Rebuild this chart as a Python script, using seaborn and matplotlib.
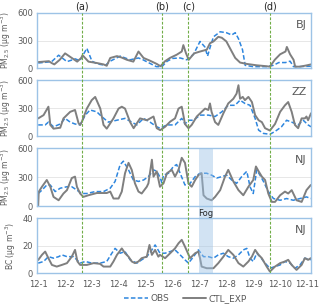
import matplotlib
matplotlib.use("Agg")
import matplotlib.pyplot as plt
import seaborn as sns
import pandas as pd

# days since 12-1 00:00
bj_ctl_t = [0, 0.4, 0.5, 0.6, 0.8, 1.0, 1.2, 1.45, 1.6, 1.65, 1.87, 2.18, 2.43, 2.55, 2.68, 2.93, 3.1, 3.3,
            3.54, 3.73, 3.92, 4.16, 4.41, 4.55, 4.72, 4.9, 5.15, 5.34, 5.4, 5.5, 5.6, 5.8, 6.02, 6.27, 6.39,
            6.52, 6.7, 6.83, 7.0, 7.2, 7.33, 7.51, 7.76, 8.13, 8.5, 8.62, 8.8, 9.0, 9.2, 9.25, 9.37, 9.5,
            9.56, 9.74, 10.0, 10.15]
bj_ctl = [65, 75, 55, 40, 90, 160, 120, 70, 110, 140, 70, 55, 40, 25, 110, 130, 115, 90, 70, 180, 110, 80,
          45, 20, 75, 110, 145, 180, 250, 160, 90, 160, 180, 200, 270, 290, 340, 330, 290, 180, 110, 60, 45,
          30, 20, 15, 90, 150, 180, 230, 150, 90, 15, 15, 30, 40]
bj_obs_t = [0, 0.5, 0.76, 1.07, 1.38, 1.55, 1.81, 2.0, 2.2, 2.5, 2.68, 3.05, 3.42, 3.73, 3.9, 4.23, 4.4, 4.6,
            4.8, 5.0, 5.28, 5.53, 5.78, 6.02, 6.2, 6.3, 6.4, 6.52, 6.77, 7.0, 7.2, 7.33, 7.45, 7.6, 7.7, 8.0,
            8.5, 8.75, 8.95, 9.2, 9.37, 9.5, 10.15]
bj_obs = [55, 70, 140, 70, 100, 80, 215, 75, 45, 30, 75, 130, 90, 110, 90, 40, 15, 15, 75, 105, 110, 90, 150,
          290, 230, 130, 230, 340, 395, 385, 360, 385, 320, 200, 30, 15, 15, 30, 60, 60, 75, 15, 20]

zz_ctl_t = [0, 0.2, 0.38, 0.45, 0.57, 0.82, 0.94, 1.19, 1.37, 1.5, 1.56, 1.62, 1.81, 1.99, 2.12, 2.31, 2.43,
            2.55, 2.8, 2.99, 3.11, 3.23, 3.42, 3.55, 3.79, 4.04, 4.29, 4.41, 4.54, 4.72, 4.91, 5.09, 5.22,
            5.34, 5.4, 5.46, 5.59, 5.71, 5.9, 6.08, 6.21, 6.33, 6.39, 6.45, 6.58, 6.7, 6.89, 7.07, 7.26, 7.38,
            7.45, 7.51, 7.61, 7.69, 7.82, 7.95, 8.07, 8.2, 8.32, 8.44, 8.62, 8.81, 9.0, 9.18, 9.3, 9.43, 9.55,
            9.67, 9.8, 9.92, 9.98, 10.04, 10.15]
zz_ctl = [190, 225, 315, 120, 80, 90, 190, 260, 280, 140, 120, 150, 295, 385, 420, 295, 120, 80, 190, 295,
          315, 295, 150, 85, 190, 170, 210, 85, 64, 100, 155, 190, 295, 315, 225, 130, 85, 120, 210, 260, 295,
          280, 350, 260, 150, 120, 245, 350, 400, 455, 545, 400, 420, 385, 420, 365, 225, 170, 150, 85, 60,
          130, 260, 330, 365, 260, 120, 85, 190, 190, 210, 170, 245]
zz_obs_t = [0, 0.26, 0.38, 0.57, 0.82, 1.0, 1.19, 1.37, 1.56, 1.75, 1.93, 2.18, 2.36, 2.61, 2.92, 3.23, 3.48,
            3.67, 3.92, 4.16, 4.41, 4.53, 4.79, 5.09, 5.34, 5.46, 5.59, 5.78, 6.02, 6.33, 6.58, 6.83, 7.07,
            7.32, 7.51, 7.69, 7.88, 8.07, 8.2, 8.38, 8.62, 8.81, 9.05, 9.24, 9.43, 9.67, 9.86, 10.04, 10.15]
zz_obs = [120, 120, 150, 100, 130, 190, 150, 130, 120, 225, 280, 260, 210, 150, 170, 190, 150, 120, 190, 150,
          100, 85, 120, 120, 190, 130, 170, 170, 225, 225, 210, 260, 330, 330, 385, 350, 330, 190, 64, 29, 20,
          50, 100, 170, 150, 120, 170, 120, 100]

nj_ctl_t = [0, 0.02, 0.14, 0.32, 0.45, 0.57, 0.76, 0.94, 1.07, 1.25, 1.37, 1.44, 1.56, 1.68, 1.87, 2.18, 2.55,
            2.68, 2.8, 2.99, 3.11, 3.23, 3.36, 3.48, 3.6, 3.73, 3.85, 4.04, 4.1, 4.23, 4.29, 4.41, 4.53, 4.66,
            4.79, 4.97, 5.09, 5.22, 5.34, 5.46, 5.59, 5.71, 5.84, 5.96, 6.08, 6.15, 6.27, 6.45, 6.58, 6.77,
            6.95, 7.07, 7.26, 7.45, 7.63, 7.82, 8.0, 8.1, 8.2, 8.32, 8.44, 8.56, 8.69, 8.81, 9.0, 9.18, 9.3,
            9.43, 9.61, 9.8, 9.98, 10.14]
nj_ctl = [0, 148, 200, 270, 200, 95, 60, 130, 165, 290, 305, 200, 130, 95, 112, 135, 135, 150, 78, 78, 150,
          340, 448, 375, 235, 150, 130, 200, 235, 480, 305, 360, 200, 235, 340, 375, 305, 375, 500, 448, 235,
          200, 270, 320, 340, 112, 78, 60, 95, 165, 305, 375, 255, 165, 112, 200, 270, 410, 360, 305, 270,
          130, 43, 43, 112, 150, 130, 165, 60, 43, 165, 218]
nj_obs_t = [0, 0.14, 0.32, 0.45, 0.63, 0.82, 1.07, 1.25, 1.44, 1.62, 1.81, 2.12, 2.43, 2.68, 2.86, 3.05, 3.17,
            3.36, 3.54, 3.73, 3.92, 4.1, 4.29, 4.41, 4.53, 4.6, 4.66, 4.85, 5.03, 5.15, 5.28, 5.46, 5.65, 5.84,
            6.02, 6.27, 6.45, 6.64, 6.83, 7.01, 7.2, 7.38, 7.57, 7.76, 7.88, 8.0, 8.13, 8.25, 8.38, 8.56, 8.75,
            9.0, 9.24, 9.49, 9.74, 9.98, 10.14]
nj_obs = [130, 165, 218, 218, 150, 185, 200, 200, 165, 130, 130, 150, 150, 185, 255, 430, 465, 375, 270, 255,
          270, 305, 375, 360, 300, 240, 320, 340, 410, 430, 340, 218, 235, 305, 340, 340, 320, 290, 305, 320,
          270, 235, 305, 360, 200, 130, 375, 320, 255, 150, 78, 60, 78, 60, 78, 95, 78]

bc_ctl_t = [0, 0.14, 0.26, 0.38, 0.51, 0.69, 0.88, 1.07, 1.25, 1.37, 1.46, 1.56, 1.81, 2.06, 2.3, 2.43, 2.68,
            2.8, 2.93, 3.11, 3.23, 3.36, 3.48, 3.6, 3.73, 3.85, 4.04, 4.14, 4.23, 4.35, 4.47, 4.53, 4.72, 4.91,
            5.09, 5.22, 5.34, 5.46, 5.65, 5.84, 5.96, 6.02, 6.08, 6.27, 6.52, 6.7, 6.89, 7.07, 7.26, 7.45,
            7.63, 7.82, 7.95, 8.07, 8.2, 8.32, 8.5, 8.62, 8.81, 9.0, 9.18, 9.3, 9.43, 9.61, 9.8, 9.92, 10.04,
            10.14]
bc_ctl = [9.6, 13.3, 15.7, 10.9, 6, 4.8, 6, 7.3, 12, 16.9, 8.5, 6, 6, 7.3, 6.8, 4.8, 4.8, 8.5, 13.3, 18, 14.5,
          12, 8.5, 7.3, 8.5, 10.9, 12, 20.5, 13.3, 16.9, 12, 13.3, 10.9, 14.5, 18, 21.7, 24.2, 19.3, 10.9, 14.5,
          15.7, 10.9, 4.8, 3.6, 3.6, 7.3, 12, 16.9, 13.3, 7.3, 4.8, 8.5, 12, 16.9, 13.3, 10.9, 4.8, 1.2, 4.8,
          7.3, 8.5, 9.7, 6, 2.4, 6, 10.9, 9.7, 10.9]
bc_obs_t = [0, 0.2, 0.38, 0.57, 0.76, 0.88, 1.07, 1.32, 1.56, 1.75, 2.0, 2.3, 2.55, 2.74, 2.86, 3.05, 3.23,
            3.42, 3.67, 3.85, 4.04, 4.23, 4.35, 4.53, 4.72, 4.91, 5.09, 5.28, 5.46, 5.59, 5.78, 5.96, 6.15,
            6.33, 6.52, 6.7, 6.89, 7.07, 7.26, 7.45, 7.63, 7.76, 7.88, 8.0, 8.13, 8.25, 8.44, 8.62, 8.81, 9.0,
            9.18, 9.37, 9.55, 9.74, 9.92, 10.14]
bc_obs = [7.3, 8.5, 12, 10.9, 12, 13.3, 12, 12, 7.3, 8.5, 7.3, 7.3, 8.5, 14.5, 18, 14.5, 15.7, 9.7, 7.3, 9.7,
          12, 16.9, 20.5, 14.5, 14.5, 15.7, 16.9, 13.3, 9.7, 7.3, 12, 16.9, 12, 12, 10.9, 13.3, 14.5, 12, 10.9,
          13.3, 16.9, 18, 10.9, 8.5, 14.5, 12, 7.3, 3.6, 4.8, 6, 8.5, 7.3, 3.6, 6, 10.9, 9.7]

stations = ["BJ", "ZZ", "NJ", "NJ"]
ylabels = ["PM$_{2.5}$ (μg m$^{-3}$)"] * 3 + ["BC (μg m$^{-3}$)"]
ymax = [600, 600, 600, 40]
day_ticks = list(range(11))
day_labels = [f"12-{d + 1}" for d in day_ticks]
events = {"(a)": 1.64, "(b)": 4.6, "(c)": 5.58, "(d)": 8.62}
fog_span = (5.98, 6.5)

series = [
    (bj_obs_t, bj_obs, bj_ctl_t, bj_ctl),
    (zz_obs_t, zz_obs, zz_ctl_t, zz_ctl),
    (nj_obs_t, nj_obs, nj_ctl_t, nj_ctl),
    (bc_obs_t, bc_obs, bc_ctl_t, bc_ctl),
]

sns.set_style("white")
plt.rcParams["font.family"] = ["DejaVu Sans"]

obs_color = "#2E86DE"
ctl_color = "#7F7F7F"
spine_color = "#9DC3E6"
text_color = "#595959"

fig = plt.figure(figsize=(3.2, 3.08), dpi=100)
left, right = 0.116, 0.972
boxes = [(0.779, 0.958), (0.558, 0.740), (0.331, 0.519), (0.113, 0.292)]
xlim = (-0.04, 10.15)

axes = []
for i, (b, t) in enumerate(boxes):
    ax = fig.add_axes([left, b, right - left, t - b])
    ot, ov, ct, cv = series[i]
    sns.lineplot(x=ot, y=ov, ax=ax, color=obs_color, lw=1.1, linestyle=(0, (3, 1.5)),
                 label="OBS" if i == 0 else None, legend=False)
    sns.lineplot(x=ct, y=cv, ax=ax, color=ctl_color, lw=1.4,
                 label="CTL_EXP" if i == 0 else None, legend=False)
    ax.set_xlim(*xlim)
    ax.set_ylim(0, ymax[i])
    ax.set_yticks([0, ymax[i] / 2, ymax[i]])
    ax.set_yticklabels([f"{v:g}" for v in [0, ymax[i] / 2, ymax[i]]])
    ax.yaxis.grid(True, color="#E3E3E3", lw=0.6)
    ax.set_xticks(day_ticks)
    if i == 3:
        ax.set_xticklabels(day_labels)
    else:
        ax.set_xticklabels([])
    ax.tick_params(axis="x", length=2 if i == 3 else 0, color=spine_color, labelsize=6,
                   labelcolor=text_color, pad=3)
    ax.tick_params(axis="y", length=0, labelsize=6, labelcolor=text_color, pad=3)
    for s in ax.spines.values():
        s.set_color(spine_color)
        s.set_linewidth(1.0)
    ax.set_ylabel(ylabels[i], fontsize=5.5, color=text_color, labelpad=3)
    ax.set_xlabel("")
    ax.text(0.985, 0.88, stations[i], transform=ax.transAxes, ha="right", va="top",
            fontsize=8, color=text_color)
    axes.append(ax)

fig.align_ylabels(axes)

# overlay for event lines and fog shading crossing panel gaps
ov_ax = fig.add_axes([left, boxes[3][0], right - left, boxes[0][1] - boxes[3][0]], zorder=5)
ov_ax.set_xlim(*xlim)
ov_ax.set_ylim(0, 1)
ov_ax.axis("off")
ov_ax.patch.set_alpha(0)
fog_top = (boxes[2][1] - boxes[3][0]) / (boxes[0][1] - boxes[3][0])
ov_ax.axvspan(*fog_span, ymin=0, ymax=fog_top, color="#9DC3E6", alpha=0.45, lw=0)
for lab, d in events.items():
    ov_ax.axvline(d, color="#70AD47", lw=0.8, linestyle=(0, (2.5, 1.5)))
    ov_ax.text(d, 1.005, lab, ha="center", va="bottom", fontsize=7, color="#262626")
fig.text(left + (right - left) * (sum(fog_span) / 2 - xlim[0]) / (xlim[1] - xlim[0]), 0.308, "Fog",
         ha="center", va="center", fontsize=6, color="#262626", zorder=6)

handles, labels = axes[0].get_legend_handles_labels()
fig.legend(handles, labels, loc="center", bbox_to_anchor=(0.58, 0.03), ncol=2, frameon=False,
           fontsize=6.5, handlelength=2.6, columnspacing=1.5, handletextpad=0.3,
           labelcolor=text_color)

fig.savefig("out.png", dpi=100)
